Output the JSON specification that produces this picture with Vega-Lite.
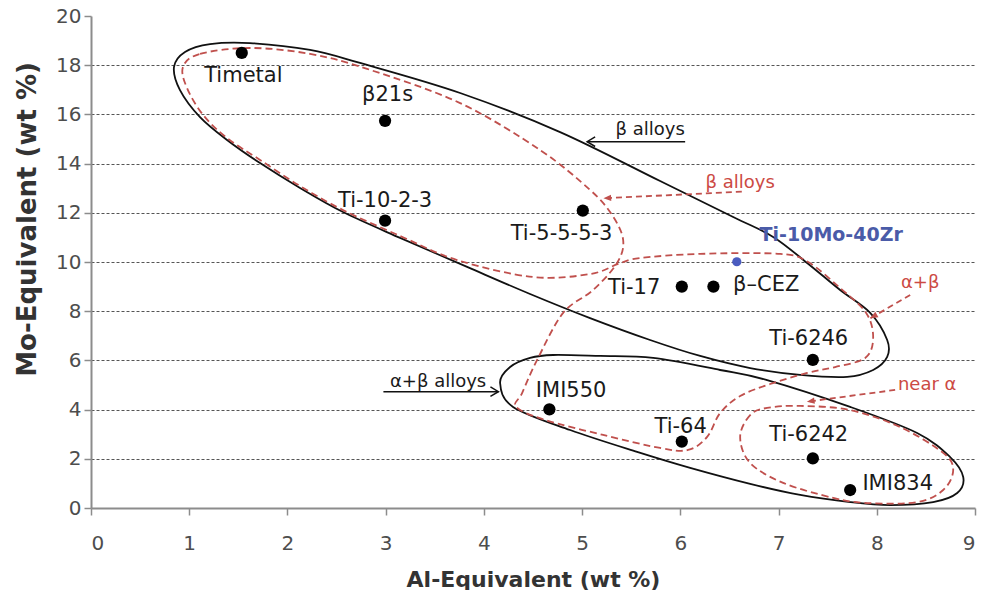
{
  "$schema": "https://vega.github.io/schema/vega-lite/v6.json",
  "width": 884,
  "height": 492,
  "autosize": {"type": "none"},
  "padding": {"left": 91, "top": 16, "right": 10, "bottom": 82},
  "background": "white",
  "config": {"view": {"stroke": null}, "font": "DejaVu Sans"},
  "datasets": {
    "shapes": [
      {"shape": "beta", "i": 1, "x": 0.845, "y": 17.93},
      {"shape": "beta", "i": 2, "x": 0.957, "y": 18.54},
      {"shape": "beta", "i": 3, "x": 1.212, "y": 18.86},
      {"shape": "beta", "i": 4, "x": 1.619, "y": 18.90},
      {"shape": "beta", "i": 5, "x": 2.230, "y": 18.62},
      {"shape": "beta", "i": 6, "x": 2.739, "y": 18.09},
      {"shape": "beta", "i": 7, "x": 3.758, "y": 16.87},
      {"shape": "beta", "i": 8, "x": 4.776, "y": 15.28},
      {"shape": "beta", "i": 9, "x": 5.794, "y": 13.29},
      {"shape": "beta", "i": 10, "x": 6.538, "y": 11.83},
      {"shape": "beta", "i": 11, "x": 6.945, "y": 11.02},
      {"shape": "beta", "i": 12, "x": 7.291, "y": 9.96},
      {"shape": "beta", "i": 13, "x": 7.627, "y": 8.86},
      {"shape": "beta", "i": 14, "x": 7.933, "y": 7.93},
      {"shape": "beta", "i": 15, "x": 8.106, "y": 6.83},
      {"shape": "beta", "i": 16, "x": 8.106, "y": 6.14},
      {"shape": "beta", "i": 17, "x": 7.963, "y": 5.61},
      {"shape": "beta", "i": 18, "x": 7.699, "y": 5.33},
      {"shape": "beta", "i": 19, "x": 7.220, "y": 5.41},
      {"shape": "beta", "i": 20, "x": 6.711, "y": 5.69},
      {"shape": "beta", "i": 21, "x": 6.202, "y": 6.18},
      {"shape": "beta", "i": 22, "x": 5.692, "y": 6.83},
      {"shape": "beta", "i": 23, "x": 5.081, "y": 7.72},
      {"shape": "beta", "i": 24, "x": 4.470, "y": 8.70},
      {"shape": "beta", "i": 25, "x": 3.829, "y": 9.80},
      {"shape": "beta", "i": 26, "x": 3.147, "y": 10.98},
      {"shape": "beta", "i": 27, "x": 2.566, "y": 12.03},
      {"shape": "beta", "i": 28, "x": 2.128, "y": 13.01},
      {"shape": "beta", "i": 29, "x": 1.721, "y": 14.02},
      {"shape": "beta", "i": 30, "x": 1.385, "y": 14.96},
      {"shape": "beta", "i": 31, "x": 1.110, "y": 15.89},
      {"shape": "beta", "i": 32, "x": 0.906, "y": 16.99},

      {"shape": "alphabeta", "i": 1, "x": 4.165, "y": 5.08},
      {"shape": "alphabeta", "i": 2, "x": 4.267, "y": 5.73},
      {"shape": "alphabeta", "i": 3, "x": 4.470, "y": 6.10},
      {"shape": "alphabeta", "i": 4, "x": 4.705, "y": 6.22},
      {"shape": "alphabeta", "i": 5, "x": 5.183, "y": 6.18},
      {"shape": "alphabeta", "i": 6, "x": 5.723, "y": 6.10},
      {"shape": "alphabeta", "i": 7, "x": 6.405, "y": 5.61},
      {"shape": "alphabeta", "i": 8, "x": 6.884, "y": 5.20},
      {"shape": "alphabeta", "i": 9, "x": 7.729, "y": 4.11},
      {"shape": "alphabeta", "i": 10, "x": 8.411, "y": 3.05},
      {"shape": "alphabeta", "i": 11, "x": 8.747, "y": 2.07},
      {"shape": "alphabeta", "i": 12, "x": 8.880, "y": 1.26},
      {"shape": "alphabeta", "i": 13, "x": 8.819, "y": 0.61},
      {"shape": "alphabeta", "i": 14, "x": 8.574, "y": 0.24},
      {"shape": "alphabeta", "i": 15, "x": 8.136, "y": 0.12},
      {"shape": "alphabeta", "i": 16, "x": 7.729, "y": 0.24},
      {"shape": "alphabeta", "i": 17, "x": 7.220, "y": 0.53},
      {"shape": "alphabeta", "i": 18, "x": 6.711, "y": 0.98},
      {"shape": "alphabeta", "i": 19, "x": 6.100, "y": 1.63},
      {"shape": "alphabeta", "i": 20, "x": 5.560, "y": 2.28},
      {"shape": "alphabeta", "i": 21, "x": 4.878, "y": 3.17},
      {"shape": "alphabeta", "i": 22, "x": 4.297, "y": 4.11},

      {"shape": "beta-alphabeta-dashed", "i": 1, "x": 0.937, "y": 17.93},
      {"shape": "beta-alphabeta-dashed", "i": 2, "x": 1.110, "y": 18.46},
      {"shape": "beta-alphabeta-dashed", "i": 3, "x": 1.619, "y": 18.70},
      {"shape": "beta-alphabeta-dashed", "i": 4, "x": 2.230, "y": 18.46},
      {"shape": "beta-alphabeta-dashed", "i": 5, "x": 2.811, "y": 17.85},
      {"shape": "beta-alphabeta-dashed", "i": 6, "x": 3.758, "y": 16.46},
      {"shape": "beta-alphabeta-dashed", "i": 7, "x": 4.572, "y": 14.55},
      {"shape": "beta-alphabeta-dashed", "i": 8, "x": 5.081, "y": 12.93},
      {"shape": "beta-alphabeta-dashed", "i": 9, "x": 5.305, "y": 11.91},
      {"shape": "beta-alphabeta-dashed", "i": 10, "x": 5.418, "y": 10.89},
      {"shape": "beta-alphabeta-dashed", "i": 11, "x": 5.356, "y": 9.96},
      {"shape": "beta-alphabeta-dashed", "i": 12, "x": 5.112, "y": 8.86},
      {"shape": "beta-alphabeta-dashed", "i": 13, "x": 4.807, "y": 7.93},
      {"shape": "beta-alphabeta-dashed", "i": 14, "x": 4.542, "y": 6.02},
      {"shape": "beta-alphabeta-dashed", "i": 15, "x": 4.389, "y": 4.67},
      {"shape": "beta-alphabeta-dashed", "i": 16, "x": 4.328, "y": 4.11},
      {"shape": "beta-alphabeta-dashed", "i": 17, "x": 4.623, "y": 3.58},
      {"shape": "beta-alphabeta-dashed", "i": 18, "x": 5.214, "y": 2.97},
      {"shape": "beta-alphabeta-dashed", "i": 19, "x": 5.794, "y": 2.44},
      {"shape": "beta-alphabeta-dashed", "i": 20, "x": 6.079, "y": 2.36},
      {"shape": "beta-alphabeta-dashed", "i": 21, "x": 6.273, "y": 2.89},
      {"shape": "beta-alphabeta-dashed", "i": 22, "x": 6.405, "y": 3.86},
      {"shape": "beta-alphabeta-dashed", "i": 23, "x": 6.609, "y": 4.55},
      {"shape": "beta-alphabeta-dashed", "i": 24, "x": 6.914, "y": 5.04},
      {"shape": "beta-alphabeta-dashed", "i": 25, "x": 7.291, "y": 5.49},
      {"shape": "beta-alphabeta-dashed", "i": 26, "x": 7.576, "y": 5.73},
      {"shape": "beta-alphabeta-dashed", "i": 27, "x": 7.882, "y": 6.10},
      {"shape": "beta-alphabeta-dashed", "i": 28, "x": 7.963, "y": 6.91},
      {"shape": "beta-alphabeta-dashed", "i": 29, "x": 7.892, "y": 7.93},
      {"shape": "beta-alphabeta-dashed", "i": 30, "x": 7.627, "y": 8.94},
      {"shape": "beta-alphabeta-dashed", "i": 31, "x": 7.301, "y": 10.00},
      {"shape": "beta-alphabeta-dashed", "i": 32, "x": 7.016, "y": 10.33},
      {"shape": "beta-alphabeta-dashed", "i": 33, "x": 6.202, "y": 10.33},
      {"shape": "beta-alphabeta-dashed", "i": 34, "x": 5.591, "y": 10.16},
      {"shape": "beta-alphabeta-dashed", "i": 35, "x": 5.367, "y": 9.92},
      {"shape": "beta-alphabeta-dashed", "i": 36, "x": 5.081, "y": 9.51},
      {"shape": "beta-alphabeta-dashed", "i": 37, "x": 4.501, "y": 9.39},
      {"shape": "beta-alphabeta-dashed", "i": 38, "x": 3.727, "y": 10.08},
      {"shape": "beta-alphabeta-dashed", "i": 39, "x": 3.147, "y": 11.06},
      {"shape": "beta-alphabeta-dashed", "i": 40, "x": 2.566, "y": 12.11},
      {"shape": "beta-alphabeta-dashed", "i": 41, "x": 2.128, "y": 13.09},
      {"shape": "beta-alphabeta-dashed", "i": 42, "x": 1.721, "y": 14.15},
      {"shape": "beta-alphabeta-dashed", "i": 43, "x": 1.385, "y": 15.04},
      {"shape": "beta-alphabeta-dashed", "i": 44, "x": 1.141, "y": 15.98},
      {"shape": "beta-alphabeta-dashed", "i": 45, "x": 0.978, "y": 17.07},

      {"shape": "nearalpha-dashed", "i": 1, "x": 6.884, "y": 4.07},
      {"shape": "nearalpha-dashed", "i": 2, "x": 6.711, "y": 3.78},
      {"shape": "nearalpha-dashed", "i": 3, "x": 6.609, "y": 2.89},
      {"shape": "nearalpha-dashed", "i": 4, "x": 6.711, "y": 1.83},
      {"shape": "nearalpha-dashed", "i": 5, "x": 7.047, "y": 1.02},
      {"shape": "nearalpha-dashed", "i": 6, "x": 7.556, "y": 0.41},
      {"shape": "nearalpha-dashed", "i": 7, "x": 7.902, "y": 0.20},
      {"shape": "nearalpha-dashed", "i": 8, "x": 8.411, "y": 0.24},
      {"shape": "nearalpha-dashed", "i": 9, "x": 8.676, "y": 0.73},
      {"shape": "nearalpha-dashed", "i": 10, "x": 8.778, "y": 1.54},
      {"shape": "nearalpha-dashed", "i": 11, "x": 8.676, "y": 2.24},
      {"shape": "nearalpha-dashed", "i": 12, "x": 8.238, "y": 3.29},
      {"shape": "nearalpha-dashed", "i": 13, "x": 7.729, "y": 3.98},
      {"shape": "nearalpha-dashed", "i": 14, "x": 7.220, "y": 4.15}
    ],
    "arrows": [
      {"arrow": "beta-black", "x": 6.049, "y": 14.89, "x2": 5.051, "y2": 14.89},
      {"arrow": "alphabeta-black", "x": 2.977, "y": 4.73, "x2": 4.148, "y2": 4.73},
      {"arrow": "beta-red", "x": 6.626, "y": 12.86, "x2": 5.217, "y2": 12.59},
      {"arrow": "alphabeta-red", "x": 8.340, "y": 8.66, "x2": 7.933, "y2": 7.71},
      {"arrow": "nearalpha-red", "x": 8.187, "y": 4.80, "x2": 7.288, "y2": 4.32}
    ],
    "alloys": [
      {"alloy": "Timetal", "x": 1.535, "y": 18.50},
      {"alloy": "β21s", "x": 2.994, "y": 15.74},
      {"alloy": "Ti-10-2-3", "x": 2.994, "y": 11.68},
      {"alloy": "Ti-5-5-5-3", "x": 5.007, "y": 12.09},
      {"alloy": "Ti-17", "x": 6.015, "y": 9.00},
      {"alloy": "β–CEZ", "x": 6.337, "y": 9.00},
      {"alloy": "Ti-6246", "x": 7.349, "y": 6.02},
      {"alloy": "IMI550", "x": 4.667, "y": 4.01},
      {"alloy": "Ti-64", "x": 6.015, "y": 2.70},
      {"alloy": "Ti-6242", "x": 7.349, "y": 2.02},
      {"alloy": "IMI834", "x": 7.729, "y": 0.73}
    ],
    "newalloy": [
      {"alloy": "Ti-10Mo-40Zr", "x": 6.575, "y": 10.01}
    ],
    "labels": [
      {"text": "Timetal", "x": 1.551, "y": 17.57},
      {"text": "β21s", "x": 3.019, "y": 16.79},
      {"text": "Ti-10-2-3", "x": 2.994, "y": 12.46},
      {"text": "Ti-5-5-5-3", "x": 4.791, "y": 11.14},
      {"text": "Ti-17", "x": 5.530, "y": 8.94},
      {"text": "β–CEZ", "x": 6.874, "y": 9.07},
      {"text": "Ti-6246", "x": 7.307, "y": 6.87},
      {"text": "IMI550", "x": 4.888, "y": 4.74},
      {"text": "Ti-64", "x": 6.003, "y": 3.31},
      {"text": "Ti-6242", "x": 7.307, "y": 2.97},
      {"text": "IMI834", "x": 8.213, "y": 0.96}
    ],
    "notes": [
      {"text": "β alloys", "group": "black", "x": 5.693, "y": 15.37},
      {"text": "α+β alloys", "group": "black", "x": 3.534, "y": 5.14},
      {"text": "β alloys", "group": "red", "x": 6.609, "y": 13.23},
      {"text": "α+β", "group": "red", "x": 8.442, "y": 9.15},
      {"text": "near α", "group": "red", "x": 8.513, "y": 5.00},
      {"text": "Ti-10Mo-40Zr", "group": "blue", "x": 7.536, "y": 11.10}
    ]
  },
  "encoding": {
    "x": {
      "field": "x", "type": "quantitative",
      "scale": {"domain": [0, 9], "nice": false, "zero": false},
      "axis": {
        "title": "Al-Equivalent (wt %)",
        "values": [0, 1, 2, 3, 4, 5, 6, 7, 8, 9],
        "grid": false,
        "domainColor": "#8c8c8c", "domainWidth": 2,
        "tickColor": "#8c8c8c", "tickSize": 7, "tickWidth": 1.5,
        "labelFont": "DejaVu Sans", "labelFontSize": 20, "labelColor": "#4d4d4d", "labelPadding": 18,
        "titleFont": "DejaVu Sans", "titleFontSize": 22, "titleFontWeight": "bold", "titleColor": "#333333",
        "titleY": 78, "titleBaseline": "alphabetic"
      }
    },
    "y": {
      "field": "y", "type": "quantitative",
      "scale": {"domain": [0, 20], "nice": false},
      "axis": {
        "title": "Mo-Equivalent (wt %)",
        "values": [0, 2, 4, 6, 8, 10, 12, 14, 16, 18, 20],
        "grid": true, "gridDash": [3, 2], "gridColor": "#555555", "gridWidth": 1,
        "gridOpacity": {"condition": {"test": "datum.value == 0 || datum.value == 20", "value": 0}, "value": 1},
        "domainColor": "#8c8c8c", "domainWidth": 2,
        "tickColor": "#8c8c8c", "tickSize": 7, "tickWidth": 1.5,
        "labelFont": "DejaVu Sans", "labelFontSize": 20, "labelColor": "#4d4d4d", "labelPadding": 3,
        "titleFont": "DejaVu Sans", "titleFontSize": 26, "titleFontWeight": "bold", "titleColor": "#333333",
        "titleAngle": 270, "titleX": -56, "titleY": 203, "titleAlign": "center", "titleBaseline": "alphabetic"
      }
    }
  },
  "layer": [
    {
      "data": {"name": "shapes"},
      "transform": [{"filter": "datum.shape == 'beta' || datum.shape == 'alphabeta'"}],
      "mark": {"type": "line", "interpolate": "cardinal-closed", "color": "#111111", "strokeWidth": 1.8},
      "encoding": {"detail": {"field": "shape"}, "order": {"field": "i", "type": "quantitative"}}
    },
    {
      "data": {"name": "shapes"},
      "transform": [{"filter": "datum.shape == 'beta-alphabeta-dashed' || datum.shape == 'nearalpha-dashed'"}],
      "mark": {"type": "line", "interpolate": "cardinal-closed", "color": "#c0504d", "strokeWidth": 1.8, "strokeDash": [7, 4]},
      "encoding": {"detail": {"field": "shape"}, "order": {"field": "i", "type": "quantitative"}}
    },
    {
      "data": {"name": "arrows"},
      "transform": [{"filter": "indexof(datum.arrow, 'black') >= 0"}],
      "mark": {"type": "rule", "color": "#111111", "strokeWidth": 1.5},
      "encoding": {"x2": {"field": "x2"}, "y2": {"field": "y2"}}
    },
    {
      "data": {"name": "arrows"},
      "transform": [{"filter": "indexof(datum.arrow, 'red') >= 0"}],
      "mark": {"type": "rule", "color": "#c0504d", "strokeWidth": 1.8, "strokeDash": [6, 4]},
      "encoding": {"x2": {"field": "x2"}, "y2": {"field": "y2"}}
    },
    {
      "data": {"name": "arrows"},
      "transform": [{"filter": "datum.arrow == 'beta-black'"}],
      "mark": {"type": "point", "shape": "M 2 -1.2 L 0 0 L 2 1.2", "filled": false, "stroke": "#111111", "strokeWidth": 1.5, "size": 64, "opacity": 1},
      "encoding": {"x": {"field": "x2", "type": "quantitative"}, "y": {"field": "y2", "type": "quantitative"}}
    },
    {
      "data": {"name": "arrows"},
      "transform": [{"filter": "datum.arrow == 'alphabeta-black'"}],
      "mark": {"type": "point", "shape": "M -2 -1.2 L 0 0 L -2 1.2", "filled": false, "stroke": "#111111", "strokeWidth": 1.5, "size": 64, "opacity": 1},
      "encoding": {"x": {"field": "x2", "type": "quantitative"}, "y": {"field": "y2", "type": "quantitative"}}
    },
    {
      "data": {"name": "arrows"},
      "transform": [{"filter": "datum.arrow == 'beta-red'"}],
      "mark": {"type": "point", "shape": "M 0 0 L 2.2 -0.9 L 2.2 0.9 Z", "filled": true, "color": "#c0504d", "size": 49, "angle": 357, "opacity": 1},
      "encoding": {"x": {"field": "x2", "type": "quantitative"}, "y": {"field": "y2", "type": "quantitative"}}
    },
    {
      "data": {"name": "arrows"},
      "transform": [{"filter": "datum.arrow == 'nearalpha-red'"}],
      "mark": {"type": "point", "shape": "M 0 0 L 2.2 -0.9 L 2.2 0.9 Z", "filled": true, "color": "#c0504d", "size": 49, "angle": 352, "opacity": 1},
      "encoding": {"x": {"field": "x2", "type": "quantitative"}, "y": {"field": "y2", "type": "quantitative"}}
    },
    {
      "data": {"name": "arrows"},
      "transform": [{"filter": "datum.arrow == 'alphabeta-red'"}],
      "mark": {"type": "point", "shape": "M 0 0 L 2.2 -0.9 L 2.2 0.9 Z", "filled": true, "color": "#c0504d", "size": 49, "angle": 330, "opacity": 1},
      "encoding": {"x": {"field": "x2", "type": "quantitative"}, "y": {"field": "y2", "type": "quantitative"}}
    },
    {
      "data": {"name": "alloys"},
      "mark": {"type": "point", "filled": true, "color": "#000000", "size": 150, "opacity": 1},
      "encoding": {"tooltip": {"field": "alloy"}}
    },
    {
      "data": {"name": "newalloy"},
      "mark": {"type": "point", "filled": true, "color": "#4a5cc0", "size": 85, "opacity": 1},
      "encoding": {"tooltip": {"field": "alloy"}}
    },
    {
      "data": {"name": "labels"},
      "mark": {"type": "text", "font": "DejaVu Sans", "fontSize": 21, "color": "#1a1a1a", "align": "center", "baseline": "middle"},
      "encoding": {"text": {"field": "text"}}
    },
    {
      "data": {"name": "notes"},
      "transform": [{"filter": "datum.group == 'black'"}],
      "mark": {"type": "text", "font": "DejaVu Sans", "fontSize": 18, "color": "#1a1a1a", "align": "center", "baseline": "middle"},
      "encoding": {"text": {"field": "text"}}
    },
    {
      "data": {"name": "notes"},
      "transform": [{"filter": "datum.group == 'red'"}],
      "mark": {"type": "text", "font": "DejaVu Sans", "fontSize": 18, "color": "#cc4a44", "align": "center", "baseline": "middle"},
      "encoding": {"text": {"field": "text"}}
    },
    {
      "data": {"name": "notes"},
      "transform": [{"filter": "datum.group == 'blue'"}],
      "mark": {"type": "text", "font": "DejaVu Sans", "fontSize": 19, "fontWeight": "bold", "color": "#4a5ba8", "align": "center", "baseline": "middle"},
      "encoding": {"text": {"field": "text"}}
    }
  ]
}
